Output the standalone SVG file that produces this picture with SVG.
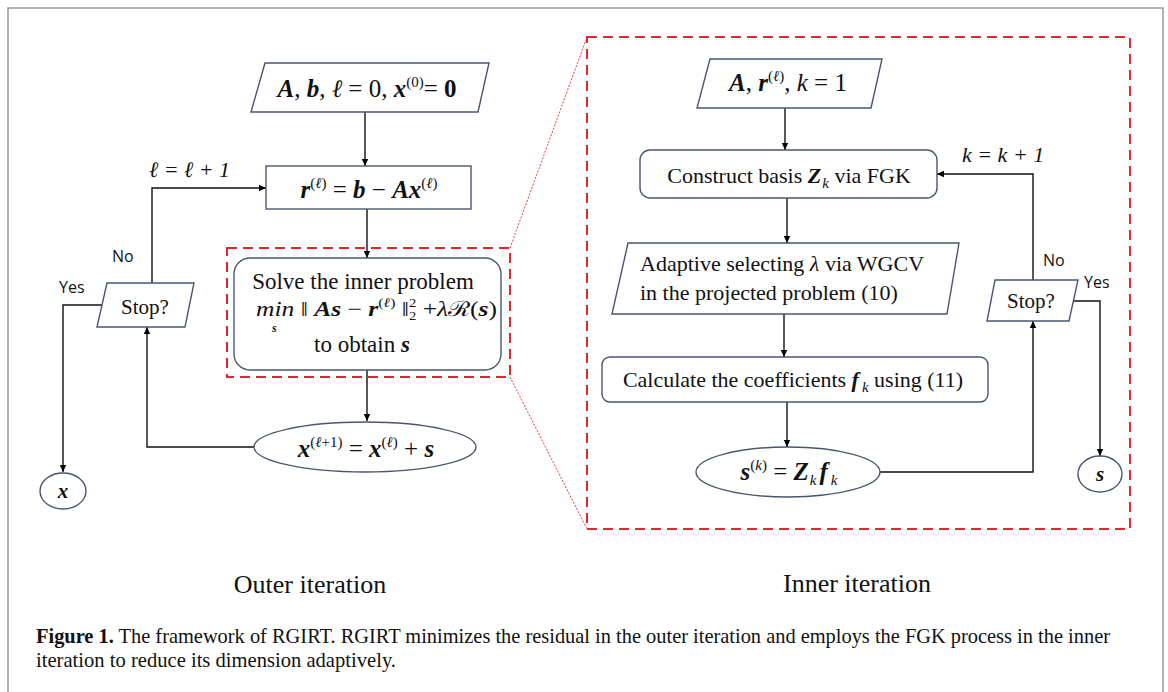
<svg xmlns="http://www.w3.org/2000/svg" width="1168" height="692" viewBox="0 0 1168 692">
<defs>
<marker id="ah" markerWidth="8" markerHeight="8" refX="7" refY="4" orient="auto" markerUnits="userSpaceOnUse">
<path d="M0,0.8 L7,4 L0,7.2 Z" fill="#000"/>
</marker>
<style>
.node{fill:#fff;stroke:#4a5670;stroke-width:1.4}
.conn{fill:none;stroke:#111;stroke-width:1.4;marker-end:url(#ah)}
.red{fill:none;stroke:#e3262b;stroke-width:2;stroke-dasharray:10 6}
.thin{fill:none;stroke:#e3262b;stroke-width:0.9;stroke-dasharray:2 1.5}
.t{font-family:"Liberation Serif","DejaVu Serif",serif;fill:#111}
.m{font-family:"Liberation Serif","DejaVu Serif",serif;fill:#111}
.bi{font-weight:bold;font-style:italic}
.it{font-style:italic}
.s{font-family:"Open Sans","Liberation Sans",sans-serif;fill:#111}
</style>
</defs>
<rect x="8" y="8" width="1155" height="700" fill="#fff" stroke="#9a9a9a" stroke-width="1.5"/>

<g id="frames">
<rect class="red" x="227" y="248" width="283" height="129"/>
<rect class="red" x="587" y="37" width="543" height="492"/>
<path class="thin" d="M510,248 L587,37"/>
<path class="thin" d="M510,377 L587,529"/>
</g>

<g id="connectors">
<path class="conn" d="M365,112 L365,166"/>
<path class="conn" d="M367,209 L367,258"/>
<path class="conn" d="M367,370 L367,421"/>
<path class="conn" d="M254,447 L147,447 L147,327"/>
<path class="conn" d="M152,283 L152,188 L266,188"/>
<path class="conn" d="M102,305 L63,305 L63,472"/>
<path class="conn" d="M785,108 L785,150"/>
<path class="conn" d="M787,198 L787,243"/>
<path class="conn" d="M784,314 L784,357"/>
<path class="conn" d="M787,402 L787,447"/>
<path class="conn" d="M880,472 L1033,472 L1033,321"/>
<path class="conn" d="M1033,280 L1033,174 L937,174"/>
<path class="conn" d="M1073,301 L1100,301 L1100,456"/>
<text class="m it" x="149" y="177" font-size="22">ℓ = ℓ + 1</text>
<text class="s" x="112" y="262" font-size="16">No</text>
<text class="s" x="59" y="293" font-size="16">Yes</text>
<text class="m it" x="962" y="162" font-size="22">k = k + 1</text>
<text class="s" x="1043" y="266" font-size="16">No</text>
<text class="s" x="1084" y="288" font-size="16">Yes</text>
</g>

<g id="outer-input">
<polygon class="node" points="265,63 489,63 478,112 251,112"/>
<text class="m" x="367" y="97" text-anchor="middle" font-size="25"><tspan class="bi">A</tspan>, <tspan class="bi">b</tspan>, <tspan class="it">ℓ</tspan> = 0, <tspan class="bi">x</tspan><tspan font-size="15" dy="-10">(0)</tspan><tspan dy="10">= </tspan><tspan font-weight="bold">0</tspan></text>
</g>

<g id="outer-residual">
<rect class="node" x="266" y="166" width="205" height="43"/>
<text class="m" x="369" y="198" text-anchor="middle" font-size="25"><tspan class="bi">r</tspan><tspan font-size="15" dy="-10">(<tspan class="it">ℓ</tspan>)</tspan><tspan dy="10"> =  </tspan><tspan class="bi">b</tspan> − <tspan class="bi">Ax</tspan><tspan font-size="15" dy="-10">(<tspan class="it">ℓ</tspan>)</tspan></text>
</g>

<g id="outer-solve">
<rect class="node" x="234" y="258" width="267" height="112" rx="16"/>
<text class="t" x="363" y="289" text-anchor="middle" font-size="23">Solve the inner problem</text>
<text class="m" x="256" y="316" font-size="21" textLength="241" lengthAdjust="spacingAndGlyphs"><tspan class="it">min</tspan> ‖ <tspan class="bi">As</tspan> − <tspan class="bi">r</tspan><tspan font-size="13" dy="-9">(<tspan class="it">ℓ</tspan>)</tspan><tspan dy="9"> ‖</tspan><tspan font-size="12" dy="-9">2</tspan><tspan font-size="12" dx="-6" dy="13">2</tspan><tspan dy="-4"> +<tspan class="it">λ</tspan>ℛ(<tspan class="bi">s</tspan>)</tspan></text>
<text class="m bi" x="272" y="332" font-size="12">s</text>
<text class="t" x="362" y="352" text-anchor="middle" font-size="23">to obtain <tspan class="bi">s</tspan></text>
</g>

<g id="outer-update">
<ellipse class="node" cx="365" cy="447" rx="111" ry="25"/>
<text class="m" x="366" y="457" text-anchor="middle" font-size="25"><tspan class="bi">x</tspan><tspan font-size="15" dy="-10">(<tspan class="it">ℓ</tspan>+1)</tspan><tspan dy="10"> = </tspan><tspan class="bi">x</tspan><tspan font-size="15" dy="-10">(<tspan class="it">ℓ</tspan>)</tspan><tspan dy="10"> + </tspan><tspan class="bi">s</tspan></text>
</g>

<g id="outer-stop">
<polygon class="node" points="107,283 194,283 185,327 97,327"/>
<text class="t" x="145" y="314" text-anchor="middle" font-size="21">Stop?</text>
</g>

<g id="outer-x">
<ellipse class="node" cx="63" cy="491" rx="23" ry="18"/>
<text class="m bi" x="63" y="498" text-anchor="middle" font-size="21">x</text>
</g>

<g id="inner-input">
<polygon class="node" points="710,59 882,59 871,108 697,108"/>
<text class="m" x="788" y="91" text-anchor="middle" font-size="25"><tspan class="bi">A</tspan>, <tspan class="bi">r</tspan><tspan font-size="15" dy="-10">(<tspan class="it">ℓ</tspan>)</tspan><tspan dy="10">, <tspan class="it">k</tspan> = 1</tspan></text>
</g>

<g id="inner-basis">
<rect class="node" x="640" y="150" width="297" height="48" rx="10"/>
<text class="t" x="789" y="183" text-anchor="middle" font-size="22">Construct basis <tspan class="bi">Z</tspan><tspan class="it" font-size="15" dx="1" dy="5">k</tspan><tspan dy="-5"> via FGK</tspan></text>
</g>

<g id="inner-wgcv">
<polygon class="node" points="628,243 959,243 947,314 612,314"/>
<text class="t" x="640" y="271" font-size="22">Adaptive selecting <tspan class="it">λ</tspan> via WGCV</text>
<text class="t" x="640" y="300" font-size="22">in the projected problem (10)</text>
</g>

<g id="inner-coef">
<rect class="node" x="602" y="357" width="386" height="45" rx="8"/>
<text class="t" x="793" y="387" text-anchor="middle" font-size="22">Calculate the coefficients <tspan class="bi">f</tspan><tspan class="it" font-size="15" dx="3" dy="5">k</tspan><tspan dy="-5"> using (11)</tspan></text>
</g>

<g id="inner-update">
<ellipse class="node" cx="788" cy="472" rx="92" ry="25"/>
<text class="m" x="789" y="480" text-anchor="middle" font-size="25"><tspan class="bi">s</tspan><tspan font-size="15" dy="-10">(<tspan class="it">k</tspan>)</tspan><tspan dy="10"> = </tspan><tspan class="bi">Z</tspan><tspan class="it" font-size="15" dx="1" dy="5">k</tspan><tspan class="bi" dx="3" dy="-5">f</tspan><tspan class="it" font-size="15" dx="3" dy="5">k</tspan></text>
</g>

<g id="inner-stop">
<polygon class="node" points="995,280 1078,280 1069,321 987,321"/>
<text class="t" x="1031" y="308" text-anchor="middle" font-size="21">Stop?</text>
</g>

<g id="inner-s">
<ellipse class="node" cx="1100" cy="474" rx="22" ry="18"/>
<text class="m bi" x="1100" y="481" text-anchor="middle" font-size="21">s</text>
</g>

<g id="labels">
<text class="t" x="310" y="593" text-anchor="middle" font-size="26">Outer iteration</text>
<text class="t" x="857" y="592" text-anchor="middle" font-size="26">Inner iteration</text>
<text class="t" x="36" y="643" font-size="21" textLength="1074" lengthAdjust="spacingAndGlyphs"><tspan font-weight="bold">Figure 1.</tspan> The framework of RGIRT. RGIRT minimizes the residual in the outer iteration and employs the FGK process in the inner</text>
<text class="t" x="36" y="667" font-size="21" textLength="360" lengthAdjust="spacingAndGlyphs">iteration to reduce its dimension adaptively.</text>
</g>
</svg>
